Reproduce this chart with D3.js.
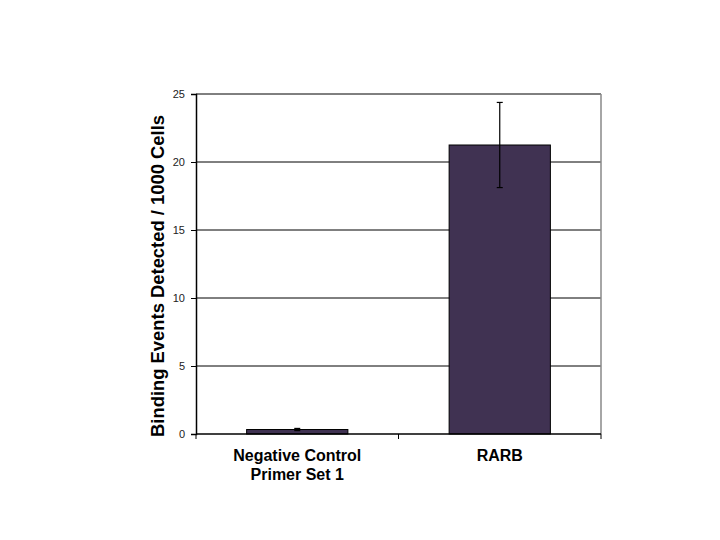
<!DOCTYPE html>
<html>
<head>
<meta charset="utf-8">
<script src="https://cdn.jsdelivr.net/npm/d3@7"></script>
<style>
  body { margin: 0; background: #fff; }
  svg { display: block; }
</style>
</head>
<body>
<div id="chart"></div>
<script>
// data
var categories = ["Negative Control|Primer Set 1", "RARB"];
var values = [0.33, 21.25];
var errors = [0.08, 3.13];
var yTicks = [0, 5, 10, 15, 20, 25];

var margin = { top: 94, right: 119, bottom: 106, left: 196 },
    width = 720 - margin.left - margin.right,
    height = 540 - margin.top - margin.bottom;

var svg = d3.select("#chart").append("svg")
    .attr("width", 720)
    .attr("height", 540);

var g = svg.append("g")
    .attr("transform", "translate(" + margin.left + "," + margin.top + ")");

var x = d3.scaleBand()
    .domain(categories)
    .range([0, width])
    .paddingInner(0.5)
    .paddingOuter(0.25);

var y = d3.scaleLinear()
    .domain([0, 25])
    .range([height, 0]);

// gridlines
g.selectAll(".grid")
    .data(yTicks.slice(1))
    .enter()
    .append("line")
    .attr("x1", 0)
    .attr("x2", width)
    .attr("y1", function(d) { return y(d); })
    .attr("y2", function(d) { return y(d); })
    .attr("stroke", "#000")
    .attr("stroke-width", 1);

// right border (grey)
g.append("line")
    .attr("x1", width).attr("x2", width)
    .attr("y1", 0).attr("y2", height)
    .attr("stroke", "#888")
    .attr("stroke-width", 1.5);

// bars
g.selectAll(".bar")
    .data(values)
    .enter()
    .append("rect")
    .attr("x", function(d, i) { return x(categories[i]); })
    .attr("y", function(d) { return y(d); })
    .attr("width", x.bandwidth())
    .attr("height", function(d) { return height - y(d); })
    .attr("fill", "#403252")
    .attr("stroke", "#000")
    .attr("stroke-width", 1);

// error bars
var errG = g.selectAll(".err")
    .data(values)
    .enter()
    .append("g")
    .attr("transform", function(d, i) {
        return "translate(" + (x(categories[i]) + x.bandwidth() / 2) + ",0)";
    });

errG.append("line")
    .attr("y1", function(d, i) { return y(d + errors[i]); })
    .attr("y2", function(d, i) { return y(d - errors[i]); })
    .attr("stroke", "#000")
    .attr("stroke-width", 1.2);
errG.append("line")
    .attr("x1", -3).attr("x2", 3)
    .attr("y1", function(d, i) { return y(d + errors[i]); })
    .attr("y2", function(d, i) { return y(d + errors[i]); })
    .attr("stroke", "#000")
    .attr("stroke-width", 1.2);
errG.append("line")
    .attr("x1", -3).attr("x2", 3)
    .attr("y1", function(d, i) { return y(d - errors[i]); })
    .attr("y2", function(d, i) { return y(d - errors[i]); })
    .attr("stroke", "#000")
    .attr("stroke-width", 1.2);

// y axis
var yAxis = g.append("g")
    .call(d3.axisLeft(y).tickValues(yTicks).tickSize(5).tickPadding(6));
yAxis.select(".domain").attr("stroke", "#000").attr("stroke-width", 1.5);
yAxis.selectAll(".tick line").attr("stroke", "#000");
yAxis.selectAll("text")
    .style("font-family", "Arial, 'Liberation Sans', sans-serif")
    .style("font-size", "11px")
    .attr("fill", "#222");

// x axis (ticks between categories)
var xAxis = g.append("g")
    .attr("transform", "translate(0," + height + ")");
xAxis.append("line")
    .attr("x1", 0).attr("x2", width)
    .attr("stroke", "#000").attr("stroke-width", 1.5);
xAxis.selectAll(".xtick")
    .data([0, width / 2, width])
    .enter()
    .append("line")
    .attr("x1", function(d) { return d; })
    .attr("x2", function(d) { return d; })
    .attr("y1", 0).attr("y2", 5)
    .attr("stroke", "#000");

var labels = xAxis.selectAll(".xlabel")
    .data(categories)
    .enter()
    .append("text")
    .attr("text-anchor", "middle")
    .attr("x", function(d) { return x(d) + x.bandwidth() / 2; })
    .attr("y", 27)
    .style("font-family", "Arial, 'Liberation Sans', sans-serif")
    .style("font-size", "16px")
    .style("font-weight", "bold")
    .attr("fill", "#000");
labels.each(function(d) {
    var parts = d.split("|");
    var t = d3.select(this);
    parts.forEach(function(p, k) {
        t.append("tspan")
            .attr("x", x(d) + x.bandwidth() / 2)
            .attr("dy", k === 0 ? 0 : 18.5)
            .text(p);
    });
});

// y axis title
svg.append("text")
    .attr("transform", "translate(164,276) rotate(-90)")
    .attr("text-anchor", "middle")
    .style("font-family", "Arial, 'Liberation Sans', sans-serif")
    .style("font-size", "18.4px")
    .style("font-weight", "bold")
    .attr("fill", "#000")
    .text("Binding Events Detected / 1000 Cells");
</script>
</body>
</html>
